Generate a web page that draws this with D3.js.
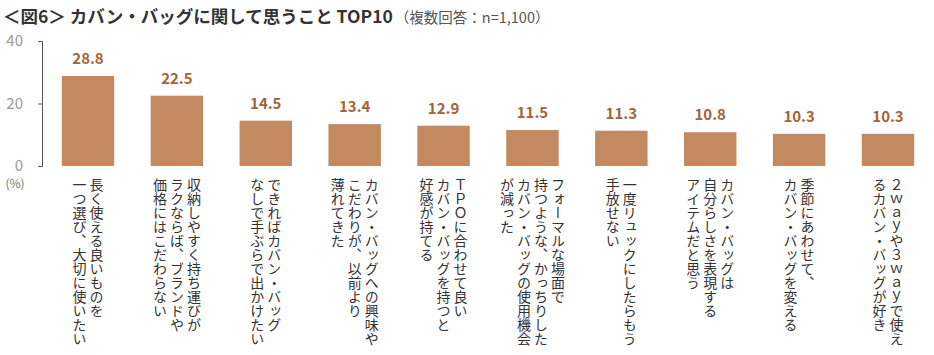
<!DOCTYPE html>
<html>
<head>
<meta charset="utf-8">
<script src="https://cdn.jsdelivr.net/npm/d3@7"></script>
<style>
    body { margin: 0; background: #fff; }
    text { font-family: "Noto Sans CJK JP", "Noto Sans", sans-serif; }
</style>
</head>
<body>
<div id="chart"></div>
<script>
// data
const categories = [
    ["長く使える良いものを", "一つ選び、大切に使いたい"],
    ["収納しやすく持ち運びが", "ラクならば、ブランドや", "価格にはこだわらない"],
    ["できればカバン・バッグ", "なしで手ぶらで出かけたい"],
    ["カバン・バッグへの興味や", "こだわりが、以前より", "薄れてきた"],
    ["ＴＰＯに合わせて良い", "カバン・バッグを持つと", "好感が持てる"],
    ["フォーマルな場面で", "持つような、かっちりした", "カバン・バッグの使用機会", "が減った"],
    ["一度リュックにしたらもう", "手放せない"],
    ["カバン・バッグは", "自分らしさを表現する", "アイテムだと思う"],
    ["季節にあわせて、", "カバン・バッグを変える"],
    ["２ｗａｙや３ｗａｙで使え", "るカバン・バッグが好き"]
];
const values = [28.8, 22.5, 14.5, 13.4, 12.9, 11.5, 11.3, 10.8, 10.3, 10.3];
const yTicks = [0, 20, 40];

const width = 934, height = 355;
const svg = d3.select("#chart").append("svg")
    .attr("width", width)
    .attr("height", height);

// title
const title = svg.append("text")
    .attr("x", 3)
    .attr("y", 23);
title.append("tspan")
    .attr("font-size", 17.5)
    .attr("font-weight", "bold")
    .attr("fill", "#333")
    .text("＜図6＞ カバン・バッグに関して思うこと TOP10");
title.append("tspan")
    .attr("font-size", 14.5)
    .attr("fill", "#555")
    .attr("dx", 2)
    .text("（複数回答：n=1,100）");

const x = d3.scaleBand()
    .domain(d3.range(values.length))
    .range([44, 932])
    .paddingInner(0.41)
    .paddingOuter(0.2);

const y = d3.scaleLinear()
    .domain([0, 40])
    .range([166, 41]);

// y axis
const yAxis = svg.append("g")
    .attr("transform", "translate(42,0)")
    .call(d3.axisLeft(y).tickValues(yTicks).tickSize(4).tickSizeOuter(4));
yAxis.select(".domain").attr("stroke", "#555");
yAxis.selectAll(".tick line").attr("stroke", "#555");
yAxis.selectAll(".tick text")
    .attr("fill", "#999")
    .attr("font-size", 15)
    .attr("font-family", "Noto Sans, sans-serif")
    .attr("x", -19);

svg.append("text")
    .attr("x", 15)
    .attr("y", 188)
    .attr("text-anchor", "middle")
    .attr("font-size", 12)
    .attr("fill", "#777")
    .text("(%)");

// bars
svg.selectAll("rect.bar")
    .data(values)
    .join("rect")
    .attr("class", "bar")
    .attr("x", (d, i) => x(i))
    .attr("y", d => y(d))
    .attr("width", x.bandwidth())
    .attr("height", d => y(0) - y(d))
    .attr("fill", "#c38a61");

// value labels
svg.selectAll("text.val")
    .data(values)
    .join("text")
    .attr("class", "val")
    .attr("x", (d, i) => x(i) + x.bandwidth() / 2)
    .attr("y", d => y(d) - 12)
    .attr("text-anchor", "middle")
    .attr("font-size", 15)
    .attr("font-weight", "bold")
    .attr("font-family", "Noto Sans, sans-serif")
    .attr("fill", "#a0653a")
    .text(d => d.toFixed(1));

// vertical category labels, columns right to left
const colGap = 17;
categories.forEach((lines, i) => {
    const cx = x(i) + x.bandwidth() / 2;
    lines.forEach((line, j) => {
        const lx = cx + ((lines.length - 1) / 2 - j) * colGap;
        svg.append("text")
            .attr("x", lx)
            .attr("y", 178)
            .style("writing-mode", "vertical-rl")
            .style("text-orientation", "upright")
            .attr("font-size", 14)
            .attr("fill", "#333")
            .text(line);
    });
});
</script>
</body>
</html>
